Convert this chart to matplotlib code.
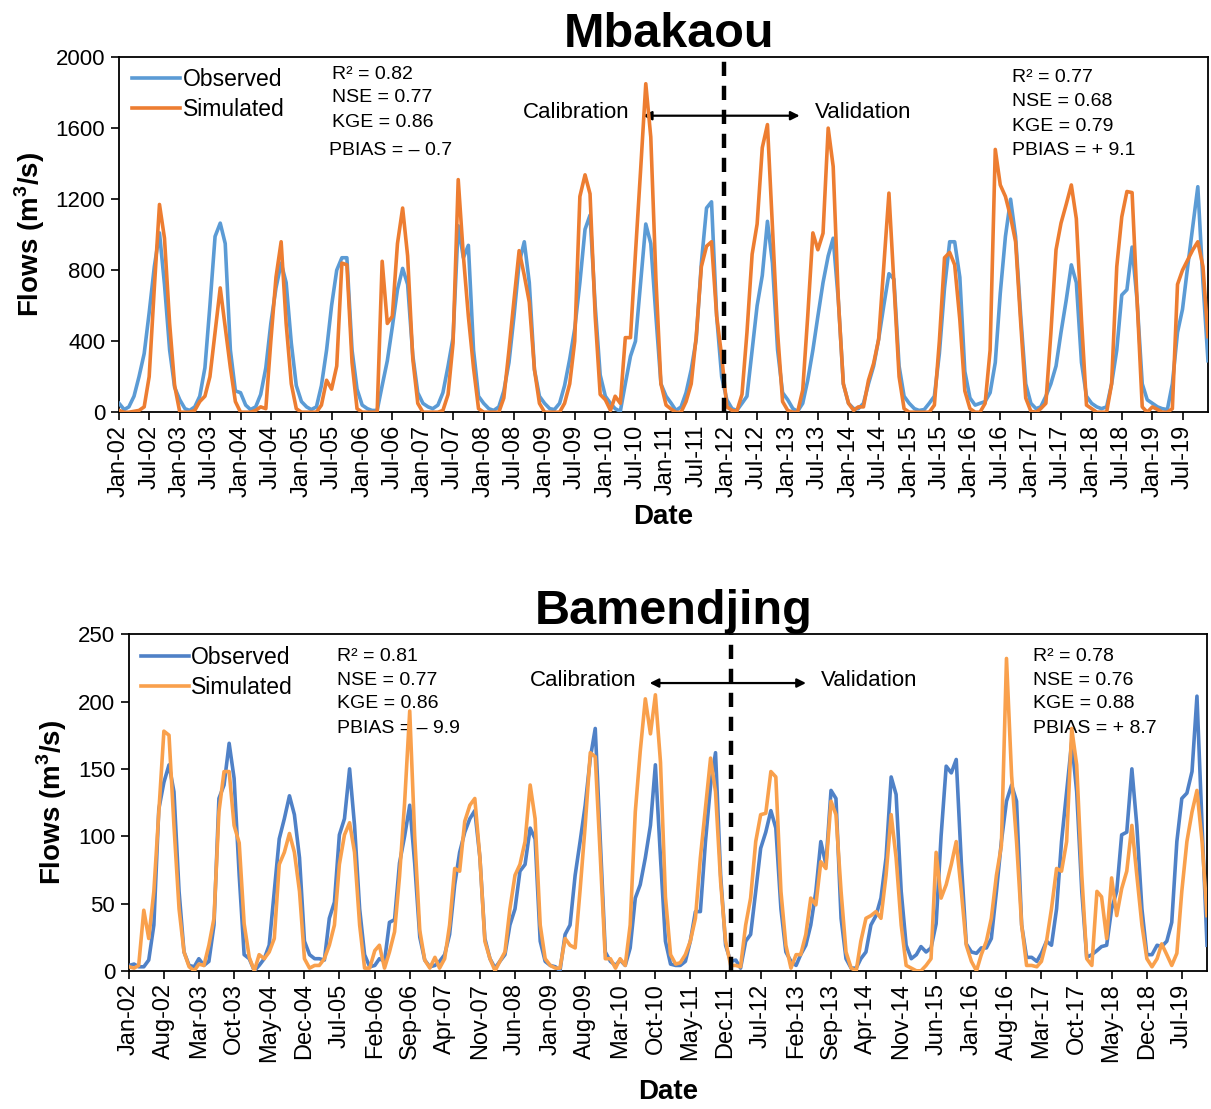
import numpy as np
import pandas as pd
import matplotlib
matplotlib.use("Agg")
import matplotlib.pyplot as plt
import matplotlib.dates as mdates

plt.rcParams['font.family'] = ['Liberation Sans', 'DejaVu Sans']

# monthly flows, Jan-2002 .. Dec-2019 (one row per year)
obs_mbakaou = [
    50, 15, 30, 90, 200, 330, 560, 820, 1010, 720, 350, 140,
    70, 20, 10, 30, 90, 250, 600, 990, 1065, 950, 350, 120,
    110, 40, 15, 30, 100, 250, 500, 700, 840, 730, 390, 150,
    60, 30, 15, 30, 150, 350, 600, 800, 870, 870, 350, 130,
    40, 20, 10, 10, 150, 290, 480, 690, 810, 720, 320, 110,
    50, 30, 20, 40, 110, 260, 420, 1050, 870, 940, 350, 90,
    50, 20, 10, 30, 120, 280, 540, 840, 960, 730, 240, 90,
    50, 20, 15, 50, 150, 300, 470, 730, 1030, 1110, 600, 210,
    90, 50, 20, 5, 160, 315, 400, 730, 1060, 950, 540, 160,
    90, 50, 10, 30, 110, 240, 410, 840, 1150, 1185, 540, 200,
    70, 20, 10, 50, 90, 350, 600, 770, 1075, 840, 350, 110,
    70, 20, 5, 50, 180, 350, 540, 730, 880, 980, 630, 160,
    50, 20, 20, 50, 160, 260, 410, 600, 780, 750, 260, 90,
    50, 20, 10, 15, 50, 90, 330, 700, 960, 960, 760, 230,
    80, 40, 50, 60, 110, 280, 670, 990, 1200, 990, 540, 160,
    50, 20, 30, 90, 160, 260, 450, 630, 830, 730, 280, 90,
    50, 30, 20, 30, 160, 350, 660, 690, 930, 630, 160, 70,
    50, 30, 20, 15, 160, 450, 580, 820, 1050, 1270, 730, 290,
]
sim_mbakaou = [
    10, 0, 0, 5, 10, 30, 200, 700, 1170, 980, 500, 150,
    0, 0, 0, 10, 60, 90, 200, 450, 700, 480, 250, 60,
    0, 0, 0, 10, 30, 20, 400, 760, 960, 500, 160, 20,
    0, 0, 0, 0, 40, 180, 130, 260, 840, 830, 280, 20,
    0, 0, 0, 0, 850, 500, 540, 950, 1150, 880, 300, 50,
    0, 0, 0, 0, 10, 100, 390, 1310, 880, 540, 250, 20,
    0, 0, 0, 0, 80, 350, 630, 910, 770, 620, 240, 50,
    0, 0, 0, 0, 50, 160, 400, 1215, 1337, 1230, 540, 100,
    70, 10, 90, 50, 420, 420, 895, 1365, 1850, 1550, 750, 160,
    40, 17, 0, 0, 60, 160, 426, 820, 935, 960, 540, 315,
    30, 10, 5, 100, 450, 890, 1060, 1490, 1620, 1050, 450, 60,
    10, 0, 0, 125, 540, 1010, 915, 1008, 1600, 1384, 633, 160,
    50, 10, 30, 30, 180, 275, 410, 820, 1234, 727, 200, 20,
    0, 0, 0, 0, 0, 40, 400, 870, 900, 830, 520, 120,
    20, 0, 0, 50, 350, 1480, 1280, 1215, 1100, 960, 500, 80,
    5, 0, 20, 50, 445, 915, 1065, 1170, 1280, 1090, 520, 40,
    20, 0, 0, 0, 160, 820, 1100, 1243, 1237, 633, 30, 0,
    30, 15, 0, 0, 20, 720, 800, 858, 915, 960, 820, 426,
]
obs_bamendjing = [
    4, 5, 3, 3, 8, 34, 120, 140, 153, 133, 59, 14,
    4, 3, 9, 4, 7, 34, 128, 138, 169, 143, 71, 12,
    9, 0, 4, 9, 19, 59, 98, 113, 130, 116, 84, 22,
    12, 9, 9, 8, 39, 51, 101, 113, 150, 108, 46, 12,
    3, 4, 9, 7, 36, 38, 80, 100, 123, 80, 25, 8,
    3, 4, 7, 12, 27, 64, 88, 103, 113, 119, 84, 24,
    9, 2, 7, 12, 34, 46, 74, 79, 106, 98, 22, 7,
    4, 3, 0, 27, 34, 71, 96, 123, 158, 180, 96, 14,
    7, 4, 8, 4, 17, 54, 64, 84, 108, 153, 84, 22,
    5, 4, 4, 7, 22, 44, 44, 96, 138, 162, 71, 19,
    7, 8, 2, 22, 27, 59, 91, 103, 119, 106, 46, 14,
    7, 4, 12, 19, 34, 59, 96, 79, 134, 128, 39, 9,
    2, 2, 9, 14, 34, 41, 54, 84, 144, 131, 59, 19,
    9, 12, 18, 14, 17, 35, 100, 152, 147, 157, 80, 20,
    14, 13, 17, 17, 24, 59, 96, 126, 138, 126, 34, 10,
    10, 7, 13, 22, 19, 46, 96, 133, 170, 133, 59, 10,
    12, 15, 18, 19, 46, 59, 101, 103, 150, 108, 46, 12,
    12, 19, 18, 22, 36, 96, 128, 132, 148, 204, 108, 19,
]
sim_bamendjing = [
    3, 2, 4, 45, 24, 59, 118, 178, 175, 108, 46, 14,
    3, 0, 5, 4, 19, 39, 118, 148, 148, 108, 95, 35,
    10, 0, 12, 9, 14, 24, 79, 88, 102, 88, 59, 9,
    2, 4, 4, 9, 19, 34, 79, 101, 110, 88, 34, 2,
    2, 15, 19, 2, 14, 29, 70, 125, 193, 100, 30, 8,
    2, 10, 2, 9, 34, 76, 74, 111, 123, 128, 84, 22,
    9, 0, 7, 14, 46, 71, 79, 96, 138, 113, 34, 9,
    4, 2, 2, 24, 19, 17, 60, 108, 162, 159, 84, 9,
    9, 2, 9, 4, 34, 118, 163, 202, 176, 205, 155, 55,
    12, 5, 6, 12, 22, 39, 84, 121, 158, 133, 66, 22,
    4, 4, 3, 34, 54, 96, 116, 117, 148, 144, 59, 19,
    2, 12, 12, 27, 54, 49, 81, 76, 126, 116, 59, 14,
    2, 0, 22, 39, 41, 44, 39, 71, 116, 84, 34, 4,
    2, 0, 0, 4, 9, 88, 54, 64, 79, 96, 59, 19,
    7, 0, 12, 22, 39, 71, 93, 232, 145, 96, 34, 4,
    4, 3, 7, 22, 46, 76, 74, 96, 180, 153, 71, 9,
    4, 59, 55, 24, 69, 41, 61, 74, 108, 71, 34, 9,
    3, 9, 20, 12, 4, 13, 59, 96, 118, 134, 96, 41,
]

stats_mbakaou_cal = ["R\u00b2 = 0.82", "NSE = 0.77", "KGE = 0.86", "PBIAS = \u2013 0.7"]
stats_mbakaou_val = ["R\u00b2 = 0.77", "NSE = 0.68", "KGE = 0.79", "PBIAS = + 9.1"]
stats_bamendjing_cal = ["R\u00b2 = 0.81", "NSE = 0.77", "KGE = 0.86", "PBIAS = \u2013 9.9"]
stats_bamendjing_val = ["R\u00b2 = 0.78", "NSE = 0.76", "KGE = 0.88", "PBIAS = + 8.7"]

dates = pd.date_range("2002-01-01", periods=216, freq="MS")


def draw_panel(ax, obs, sim, title, ymax, ystep, tick_every, split, c_obs, c_sim,
               stats_cal, stats_val, pos):
    ax.plot(dates, obs, color=c_obs, lw=2.6, label="Observed", zorder=3)
    ax.plot(dates, sim, color=c_sim, lw=2.6, label="Simulated", zorder=4)
    ax.axvline(split, color="black", lw=3.2, ls=(0, (3.2, 2.2)), zorder=5)

    ax.set_xlim(dates[0], dates[-1])
    ax.set_ylim(0, ymax)
    ax.set_yticks(np.arange(0, ymax + 1, ystep))
    ax.set_xticks(dates[::tick_every])
    ax.xaxis.set_major_formatter(mdates.DateFormatter("%b-%y"))
    ax.tick_params(axis="x", labelrotation=90, length=6, width=1.2, labelsize=17, pad=3)
    ax.tick_params(axis="y", length=6, width=1.2, labelsize=16, pad=4)
    for sp in ax.spines.values():
        sp.set_linewidth(1.3)

    ax.set_xlabel("Date", fontsize=20, fontweight="bold", labelpad=pos["xpad"])
    ax.set_ylabel("Flows (m$^\\mathregular{3}$/s)", fontsize=20, fontweight="bold", labelpad=6)

    ax.legend(loc="upper left", bbox_to_anchor=pos["leg"], frameon=False,
              fontsize=16.5, handlelength=2.1, handletextpad=0.1,
              labelspacing=0.28, borderaxespad=0, borderpad=0)

    xs, ys = pos["cal"]
    for s, x, y in zip(stats_cal, xs, ys):
        ax.text(x, y, s, transform=ax.transAxes, fontsize=14, va="center", ha="left")
    xs, ys = pos["val"]
    for s, x, y in zip(stats_val, xs, ys):
        ax.text(x, y, s, transform=ax.transAxes, fontsize=14, va="center", ha="left")

    xa, xb, ya = pos["arrow"]
    ax.annotate("", xy=(xa, ya), xytext=(xb, ya), xycoords="axes fraction",
                arrowprops=dict(arrowstyle="<|-|>", color="black", lw=1.6,
                                mutation_scale=13, shrinkA=0, shrinkB=0))
    ax.text(xa - 0.012, ya + 0.008, "Calibration", transform=ax.transAxes,
            fontsize=16, ha="right", va="center")
    ax.text(xb + 0.014, ya + 0.008, "Validation", transform=ax.transAxes,
            fontsize=16, ha="left", va="center")

    ax.set_title(title, fontsize=35, fontweight="bold", pad=4, x=pos["tx"])


fig = plt.figure(figsize=(12.11, 11.09), dpi=100)

ax1 = fig.add_axes([0.0983, 0.6283, 0.8992, 0.3202])
draw_panel(ax1, obs_mbakaou, sim_mbakaou, "Mbakaou", 2000, 400, 6,
           pd.Timestamp("2011-12-16"), "#5B9BD5", "#ED7D31",
           stats_mbakaou_cal, stats_mbakaou_val,
           dict(leg=(0.012, 0.968),
                cal=([0.196, 0.196, 0.196, 0.193], [0.950, 0.885, 0.815, 0.736]),
                val=([0.820] * 4, [0.942, 0.874, 0.806, 0.736]),
                arrow=(0.481, 0.625, 0.835), tx=0.505, xpad=5))

ax2 = fig.add_axes([0.1065, 0.1246, 0.8902, 0.3035])
draw_panel(ax2, obs_bamendjing, sim_bamendjing, "Bamendjing", 250, 50, 7,
           pd.Timestamp("2012-01-01"), "#4F81C7", "#F9A04C",
           stats_bamendjing_cal, stats_bamendjing_val,
           dict(leg=(0.011, 0.964),
                cal=([0.193] * 4, [0.933, 0.864, 0.793, 0.721]),
                val=([0.839] * 4, [0.933, 0.864, 0.793, 0.721]),
                arrow=(0.483, 0.628, 0.855), tx=0.505, xpad=12))

fig.savefig("out.png", dpi=100)
